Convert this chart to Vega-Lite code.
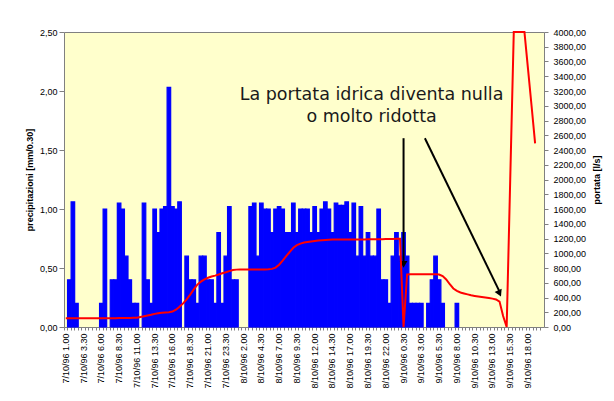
{
"$schema": "https://vega.github.io/schema/vega-lite/v6.json",
"width": 480, "height": 295,
"autosize": {"type": "none"},
"padding": {"left": 64, "top": 32, "right": 70, "bottom": 74},
"background": "white",
"config": {
  "view": {"fill": "#FFFFCC", "stroke": "#808080", "strokeWidth": 1},
  "font": "Liberation Sans",
  "axis": {"grid": false, "labelFont": "Liberation Sans", "titleFont": "Liberation Sans", "labelColor": "#000000", "titleColor": "#000000", "domainColor": "#808080", "tickColor": "#808080", "labelFontSize": 9, "titleFontSize": 9, "titleFontWeight": "bold"}
},
"datasets": {
  "main": [
{"t":"7/10/96 1.00","p":0,"q":120},{"t":"7/10/96 1.30","p":0.4,"q":120},{"t":"7/10/96 2.00","p":1.06,"q":120},{"t":"7/10/96 2.30","p":0.2,"q":120},{"t":"7/10/96 3.00","p":0,"q":120},{"t":"7/10/96 3.30","p":0,"q":120},{"t":"7/10/96 4.00","p":0,"q":120},{"t":"7/10/96 4.30","p":0,"q":120},{"t":"7/10/96 5.00","p":0,"q":120},{"t":"7/10/96 5.30","p":0,"q":120},
{"t":"7/10/96 6.00","p":0.2,"q":120},{"t":"7/10/96 6.30","p":1.0,"q":120},{"t":"7/10/96 7.00","p":0,"q":120},{"t":"7/10/96 7.30","p":0.4,"q":120},{"t":"7/10/96 8.00","p":0.4,"q":120},{"t":"7/10/96 8.30","p":1.05,"q":121},{"t":"7/10/96 9.00","p":1.0,"q":122},{"t":"7/10/96 9.30","p":0.6,"q":122},{"t":"7/10/96 10.00","p":0.4,"q":123},{"t":"7/10/96 10.30","p":0.2,"q":124},
{"t":"7/10/96 11.00","p":0.2,"q":126},{"t":"7/10/96 11.30","p":0,"q":135},{"t":"7/10/96 12.00","p":1.05,"q":145},{"t":"7/10/96 12.30","p":0.4,"q":155},{"t":"7/10/96 13.00","p":0.2,"q":165},{"t":"7/10/96 13.30","p":1.0,"q":178},{"t":"7/10/96 14.00","p":0.8,"q":186},{"t":"7/10/96 14.30","p":1.0,"q":192},{"t":"7/10/96 15.00","p":1.02,"q":197},{"t":"7/10/96 15.30","p":2.03,"q":201},
{"t":"7/10/96 16.00","p":1.02,"q":210},{"t":"7/10/96 16.30","p":1.0,"q":235},{"t":"7/10/96 17.00","p":1.06,"q":275},{"t":"7/10/96 17.30","p":0,"q":320},{"t":"7/10/96 18.00","p":0.6,"q":375},{"t":"7/10/96 18.30","p":0.4,"q":440},{"t":"7/10/96 19.00","p":0.4,"q":510},{"t":"7/10/96 19.30","p":0.2,"q":575},{"t":"7/10/96 20.00","p":0.6,"q":615},{"t":"7/10/96 20.30","p":0.6,"q":645},
{"t":"7/10/96 21.00","p":0.4,"q":668},{"t":"7/10/96 21.30","p":0.4,"q":685},{"t":"7/10/96 22.00","p":0.2,"q":697},{"t":"7/10/96 22.30","p":0.8,"q":712},{"t":"7/10/96 23.00","p":0.2,"q":728},{"t":"7/10/96 23.30","p":0.6,"q":742},{"t":"8/10/96 0.00","p":1.02,"q":758},{"t":"8/10/96 0.30","p":0.4,"q":772},{"t":"8/10/96 1.00","p":0.4,"q":778},{"t":"8/10/96 1.30","p":0,"q":780},
{"t":"8/10/96 2.00","p":0,"q":780},{"t":"8/10/96 2.30","p":0,"q":780},{"t":"8/10/96 3.00","p":1.02,"q":780},{"t":"8/10/96 3.30","p":1.05,"q":780},{"t":"8/10/96 4.00","p":0.6,"q":780},{"t":"8/10/96 4.30","p":1.05,"q":780},{"t":"8/10/96 5.00","p":1.0,"q":780},{"t":"8/10/96 5.30","p":1.0,"q":782},{"t":"8/10/96 6.00","p":0.8,"q":788},{"t":"8/10/96 6.30","p":1.0,"q":805},
{"t":"8/10/96 7.00","p":1.02,"q":845},{"t":"8/10/96 7.30","p":1.0,"q":900},{"t":"8/10/96 8.00","p":0.8,"q":960},{"t":"8/10/96 8.30","p":0.8,"q":1020},{"t":"8/10/96 9.00","p":1.05,"q":1075},{"t":"8/10/96 9.30","p":0.8,"q":1110},{"t":"8/10/96 10.00","p":1.0,"q":1130},{"t":"8/10/96 10.30","p":1.0,"q":1145},{"t":"8/10/96 11.00","p":1.0,"q":1152},{"t":"8/10/96 11.30","p":0.8,"q":1160},
{"t":"8/10/96 12.00","p":1.02,"q":1166},{"t":"8/10/96 12.30","p":0.8,"q":1172},{"t":"8/10/96 13.00","p":1.0,"q":1176},{"t":"8/10/96 13.30","p":1.06,"q":1180},{"t":"8/10/96 14.00","p":1.0,"q":1184},{"t":"8/10/96 14.30","p":0.8,"q":1186},{"t":"8/10/96 15.00","p":1.05,"q":1186},{"t":"8/10/96 15.30","p":1.03,"q":1186},{"t":"8/10/96 16.00","p":1.03,"q":1187},{"t":"8/10/96 16.30","p":1.06,"q":1187},
{"t":"8/10/96 17.00","p":0.8,"q":1187},{"t":"8/10/96 17.30","p":1.05,"q":1188},{"t":"8/10/96 18.00","p":0.6,"q":1188},{"t":"8/10/96 18.30","p":1.02,"q":1188},{"t":"8/10/96 19.00","p":0.6,"q":1188},{"t":"8/10/96 19.30","p":0.8,"q":1189},{"t":"8/10/96 20.00","p":0.6,"q":1189},{"t":"8/10/96 20.30","p":0.6,"q":1190},{"t":"8/10/96 21.00","p":1.0,"q":1190},{"t":"8/10/96 21.30","p":0.4,"q":1191},
{"t":"8/10/96 22.00","p":0.4,"q":1192},{"t":"8/10/96 22.30","p":0.2,"q":1193},{"t":"8/10/96 23.00","p":0.6,"q":1194},{"t":"8/10/96 23.30","p":0.8,"q":1195},{"t":"9/10/96 0.00","p":0.6,"q":1195},{"t":"9/10/96 0.30","p":0.8,"q":0},{"t":"9/10/96 1.00","p":0.6,"q":712},{"t":"9/10/96 1.30","p":0.2,"q":715},{"t":"9/10/96 2.00","p":0.2,"q":715},{"t":"9/10/96 2.30","p":0.2,"q":715},
{"t":"9/10/96 3.00","p":0.2,"q":715},{"t":"9/10/96 3.30","p":0,"q":715},{"t":"9/10/96 4.00","p":0.2,"q":715},{"t":"9/10/96 4.30","p":0.4,"q":715},{"t":"9/10/96 5.00","p":0.6,"q":715},{"t":"9/10/96 5.30","p":0.4,"q":712},{"t":"9/10/96 6.00","p":0.2,"q":690},{"t":"9/10/96 6.30","p":0,"q":645},{"t":"9/10/96 7.00","p":0,"q":580},{"t":"9/10/96 7.30","p":0,"q":522},
{"t":"9/10/96 8.00","p":0.2,"q":490},{"t":"9/10/96 8.30","p":0,"q":468},{"t":"9/10/96 9.00","p":0,"q":455},{"t":"9/10/96 9.30","p":0,"q":442},{"t":"9/10/96 10.00","p":0,"q":430},{"t":"9/10/96 10.30","p":0,"q":421},{"t":"9/10/96 11.00","p":0,"q":413},{"t":"9/10/96 11.30","p":0,"q":406},{"t":"9/10/96 12.00","p":0,"q":400},{"t":"9/10/96 12.30","p":0,"q":393},
{"t":"9/10/96 13.00","p":0,"q":385},{"t":"9/10/96 13.30","p":0,"q":373},{"t":"9/10/96 14.00","p":0,"q":345},{"t":"9/10/96 14.30","p":0,"q":150},{"t":"9/10/96 15.00","p":0,"q":0},{"t":"9/10/96 15.30","p":0,"q":2000},{"t":"9/10/96 16.00","p":0,"q":4000},{"t":"9/10/96 16.30","p":0,"q":4000},{"t":"9/10/96 17.00","p":0,"q":4000},{"t":"9/10/96 17.30","p":0,"q":4000},
{"t":"9/10/96 18.00","p":0,"q":3500},{"t":"9/10/96 18.30","p":0,"q":3000},{"t":"9/10/96 19.00","p":0,"q":2490},{"t":"9/10/96 19.30","p":0,"q":null},{"t":"9/10/96 20.00","p":0,"q":null}
  ],
  "arrows": [
    {"t":"9/10/96 0.30","t2":"9/10/96 0.30","y":1.60,"y2":0.55},
    {"t":"9/10/96 3.30","t2":"9/10/96 14.00","y":1.60,"y2":0.30}
  ],
  "head1": [{"t":"9/10/96 0.30","y":0.53}],
  "head2": [{"t":"9/10/96 14.00","y":0.285}],
  "notes": [
    {"t":"8/10/96 20.00","y":1.97,"label":"La portata idrica diventa nulla"},
    {"t":"8/10/96 20.00","y":1.78,"label":"o molto ridotta"}
  ]
},
"layer": [
  {"layer": [
    {"data": {"name": "main"},
     "transform": [{"filter": "datum.p > 0"}],
     "mark": {"type": "bar", "color": "#0000FF", "stroke": "#0000FF", "strokeWidth": 1.2},
     "encoding": {
       "x": {"field": "t", "type": "ordinal",
             "scale": {"paddingInner": 0, "paddingOuter": 0, "domain": ["7/10/96 1.00","7/10/96 1.30","7/10/96 2.00","7/10/96 2.30","7/10/96 3.00","7/10/96 3.30","7/10/96 4.00","7/10/96 4.30","7/10/96 5.00","7/10/96 5.30","7/10/96 6.00","7/10/96 6.30","7/10/96 7.00","7/10/96 7.30","7/10/96 8.00","7/10/96 8.30","7/10/96 9.00","7/10/96 9.30","7/10/96 10.00","7/10/96 10.30","7/10/96 11.00","7/10/96 11.30","7/10/96 12.00","7/10/96 12.30","7/10/96 13.00","7/10/96 13.30","7/10/96 14.00","7/10/96 14.30","7/10/96 15.00","7/10/96 15.30","7/10/96 16.00","7/10/96 16.30","7/10/96 17.00","7/10/96 17.30","7/10/96 18.00","7/10/96 18.30","7/10/96 19.00","7/10/96 19.30","7/10/96 20.00","7/10/96 20.30","7/10/96 21.00","7/10/96 21.30","7/10/96 22.00","7/10/96 22.30","7/10/96 23.00","7/10/96 23.30","8/10/96 0.00","8/10/96 0.30","8/10/96 1.00","8/10/96 1.30","8/10/96 2.00","8/10/96 2.30","8/10/96 3.00","8/10/96 3.30","8/10/96 4.00","8/10/96 4.30","8/10/96 5.00","8/10/96 5.30","8/10/96 6.00","8/10/96 6.30","8/10/96 7.00","8/10/96 7.30","8/10/96 8.00","8/10/96 8.30","8/10/96 9.00","8/10/96 9.30","8/10/96 10.00","8/10/96 10.30","8/10/96 11.00","8/10/96 11.30","8/10/96 12.00","8/10/96 12.30","8/10/96 13.00","8/10/96 13.30","8/10/96 14.00","8/10/96 14.30","8/10/96 15.00","8/10/96 15.30","8/10/96 16.00","8/10/96 16.30","8/10/96 17.00","8/10/96 17.30","8/10/96 18.00","8/10/96 18.30","8/10/96 19.00","8/10/96 19.30","8/10/96 20.00","8/10/96 20.30","8/10/96 21.00","8/10/96 21.30","8/10/96 22.00","8/10/96 22.30","8/10/96 23.00","8/10/96 23.30","9/10/96 0.00","9/10/96 0.30","9/10/96 1.00","9/10/96 1.30","9/10/96 2.00","9/10/96 2.30","9/10/96 3.00","9/10/96 3.30","9/10/96 4.00","9/10/96 4.30","9/10/96 5.00","9/10/96 5.30","9/10/96 6.00","9/10/96 6.30","9/10/96 7.00","9/10/96 7.30","9/10/96 8.00","9/10/96 8.30","9/10/96 9.00","9/10/96 9.30","9/10/96 10.00","9/10/96 10.30","9/10/96 11.00","9/10/96 11.30","9/10/96 12.00","9/10/96 12.30","9/10/96 13.00","9/10/96 13.30","9/10/96 14.00","9/10/96 14.30","9/10/96 15.00","9/10/96 15.30","9/10/96 16.00","9/10/96 16.30","9/10/96 17.00","9/10/96 17.30","9/10/96 18.00","9/10/96 18.30","9/10/96 19.00","9/10/96 19.30","9/10/96 20.00"]},
             "axis": {"orient": "bottom", "labels": false, "title": null, "ticks": true, "tickSize": 3, "bandPosition": 0, "domain": false}},
       "y": {"field": "p", "type": "quantitative", "scale": {"domain": [0, 2.5], "nice": false},
             "axis": {"orient": "left", "values": [0, 0.5, 1, 1.5, 2, 2.5], "labelExpr": "replace(format(datum.value, '.2f'), '.', ',')", "tickSize": 5, "labelPadding": 2, "title": "precipitazioni [mm/0.30]", "titlePadding": 5, "domain": false}}
     }},
    {"data": {"name": "arrows"},
     "mark": {"type": "rule", "color": "#000000", "strokeWidth": 2},
     "encoding": {
       "x": {"field": "t", "type": "ordinal"}, "x2": {"field": "t2"},
       "y": {"field": "y", "type": "quantitative", "scale": {"domain": [0, 2.5], "nice": false}}, "y2": {"field": "y2"}
     }},
    {"data": {"name": "head1"},
     "mark": {"type": "point", "shape": "triangle-down", "filled": true, "color": "#000000", "size": 60, "opacity": 1},
     "encoding": {"x": {"field": "t", "type": "ordinal"}, "y": {"field": "y", "type": "quantitative", "scale": {"domain": [0, 2.5], "nice": false}}}},
    {"data": {"name": "head2"},
     "mark": {"type": "point", "shape": "triangle-down", "filled": true, "color": "#000000", "size": 60, "angle": -25, "opacity": 1},
     "encoding": {"x": {"field": "t", "type": "ordinal"}, "y": {"field": "y", "type": "quantitative", "scale": {"domain": [0, 2.5], "nice": false}}}},
    {"data": {"name": "notes"},
     "mark": {"type": "text", "font": "DejaVu Sans", "fontSize": 17.5, "color": "#1a1a1a", "align": "center", "baseline": "middle"},
     "encoding": {"x": {"field": "t", "type": "ordinal"}, "y": {"field": "y", "type": "quantitative", "scale": {"domain": [0, 2.5], "nice": false}}, "text": {"field": "label"}}}
  ]},
  {"data": {"name": "main"},
   "mark": {"type": "line", "color": "#FF0000", "strokeWidth": 2},
   "encoding": {
     "x": {"field": "t", "type": "ordinal",
           "axis": {"orient": "bottom", "values": ["7/10/96 1.00","7/10/96 3.30","7/10/96 6.00","7/10/96 8.30","7/10/96 11.00","7/10/96 13.30","7/10/96 16.00","7/10/96 18.30","7/10/96 21.00","7/10/96 23.30","8/10/96 2.00","8/10/96 4.30","8/10/96 7.00","8/10/96 9.30","8/10/96 12.00","8/10/96 14.30","8/10/96 17.00","8/10/96 19.30","8/10/96 22.00","9/10/96 0.30","9/10/96 3.00","9/10/96 5.30","9/10/96 8.00","9/10/96 10.30","9/10/96 13.00","9/10/96 15.30","9/10/96 18.00"], "labelAngle": 270, "ticks": false, "tickSize": 0, "labelPadding": 6, "title": null, "domain": false}},
     "y": {"field": "q", "type": "quantitative", "scale": {"domain": [0, 4000], "nice": false},
           "axis": {"orient": "right", "values": [0,200,400,600,800,1000,1200,1400,1600,1800,2000,2200,2400,2600,2800,3000,3200,3400,3600,3800,4000], "labelExpr": "replace(format(datum.value, '.2f'), '.', ',')", "tickSize": 4, "labelPadding": 5, "title": "portata [l/s]", "titleAngle": 270, "titleBaseline": "top", "titlePadding": 7, "domain": false}}
   }}
],
"resolve": {"scale": {"y": "independent"}, "axis": {"x": "independent"}}
}
